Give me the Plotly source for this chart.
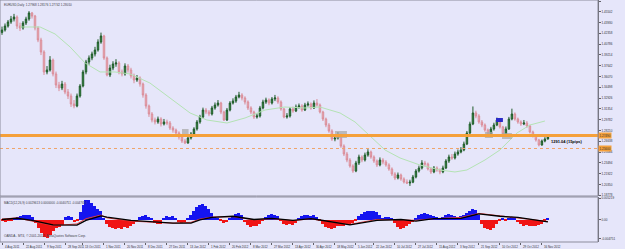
import plotly.graph_objects as go

# ---------------- data ----------------
bars = list(range(183))

opens = [1.4250, 1.4285, 1.4343, 1.4402, 1.4445, 1.4474, 1.4343, 1.4314, 1.4387, 1.4445,
         1.4533, 1.4489, 1.4314, 1.4140, 1.3965, 1.3674, 1.3703, 1.3848, 1.3645, 1.3484,
         1.3441, 1.3499, 1.3382, 1.3324, 1.3208, 1.3179, 1.3324, 1.3470, 1.3674, 1.3819,
         1.3878, 1.3936, 1.3994, 1.4110, 1.4198, 1.3878, 1.3630, 1.3732, 1.3790, 1.3805,
         1.3674, 1.3645, 1.3761, 1.3703, 1.3615, 1.3557, 1.3586, 1.3499, 1.3339, 1.3179,
         1.3062, 1.2975, 1.2946, 1.2989, 1.2917, 1.2946, 1.2931, 1.2858, 1.2829, 1.2786,
         1.2727, 1.2669, 1.2640, 1.2713, 1.2771, 1.2844, 1.2946, 1.3019, 1.3120, 1.3091,
         1.3062, 1.3150, 1.3193, 1.3222, 1.3091, 1.2975, 1.3120, 1.3222, 1.3251, 1.3310,
         1.3339, 1.3295, 1.3237, 1.3150, 1.3091, 1.3019, 1.3033, 1.3150, 1.3237, 1.3266,
         1.3222, 1.3281, 1.3295, 1.3237, 1.3135, 1.3019, 1.3033, 1.3135, 1.3106, 1.3164,
         1.3179, 1.3120, 1.3193, 1.3208, 1.3150, 1.3222, 1.3193, 1.3091, 1.2989, 1.2902,
         1.2815, 1.2698, 1.2713, 1.2756, 1.2596, 1.2480, 1.2392, 1.2305, 1.2232, 1.2349,
         1.2436, 1.2392, 1.2465, 1.2509, 1.2436, 1.2378, 1.2320, 1.2392, 1.2363, 1.2320,
         1.2261, 1.2189, 1.2130, 1.2174, 1.2116, 1.2072, 1.2057, 1.2070, 1.2145, 1.2232,
         1.2276, 1.2349, 1.2334, 1.2261, 1.2218, 1.2276, 1.2247, 1.2218, 1.2276, 1.2378,
         1.2436, 1.2422, 1.2480, 1.2509, 1.2538, 1.2625, 1.2786, 1.2917, 1.3077, 1.3033,
         1.2946, 1.2902, 1.2829, 1.2771, 1.2844, 1.2902, 1.2975, 1.2873, 1.2771, 1.2844,
         1.2989, 1.3062, 1.2989, 1.2946, 1.2917, 1.2931, 1.2887, 1.2800, 1.2742, 1.2684,
         1.2611, 1.2669, 1.2698]

closes = [1.4285, 1.4343, 1.4402, 1.4445, 1.4474, 1.4343, 1.4314, 1.4387, 1.4445, 1.4533,
          1.4489, 1.4314, 1.4140, 1.3965, 1.3674, 1.3703, 1.3848, 1.3645, 1.3484, 1.3441,
          1.3499, 1.3382, 1.3324, 1.3208, 1.3179, 1.3324, 1.3470, 1.3674, 1.3819, 1.3878,
          1.3936, 1.3994, 1.4110, 1.4198, 1.3878, 1.3630, 1.3732, 1.3790, 1.3805, 1.3674,
          1.3645, 1.3761, 1.3703, 1.3615, 1.3557, 1.3586, 1.3499, 1.3339, 1.3179, 1.3062,
          1.2975, 1.2946, 1.2989, 1.2917, 1.2946, 1.2931, 1.2858, 1.2829, 1.2786, 1.2727,
          1.2669, 1.2640, 1.2713, 1.2771, 1.2844, 1.2946, 1.3019, 1.3120, 1.3091, 1.3062,
          1.3150, 1.3193, 1.3222, 1.3091, 1.2975, 1.3120, 1.3222, 1.3251, 1.3310, 1.3339,
          1.3295, 1.3237, 1.3150, 1.3091, 1.3019, 1.3033, 1.3150, 1.3237, 1.3266, 1.3222,
          1.3281, 1.3295, 1.3237, 1.3135, 1.3019, 1.3033, 1.3135, 1.3106, 1.3164, 1.3179,
          1.3120, 1.3193, 1.3208, 1.3150, 1.3222, 1.3193, 1.3091, 1.2989, 1.2902, 1.2815,
          1.2698, 1.2713, 1.2756, 1.2596, 1.2480, 1.2392, 1.2305, 1.2232, 1.2349, 1.2436,
          1.2392, 1.2465, 1.2509, 1.2436, 1.2378, 1.2320, 1.2392, 1.2363, 1.2320, 1.2261,
          1.2189, 1.2130, 1.2174, 1.2116, 1.2072, 1.2057, 1.2070, 1.2145, 1.2232, 1.2276,
          1.2349, 1.2334, 1.2261, 1.2218, 1.2276, 1.2247, 1.2218, 1.2276, 1.2378, 1.2436,
          1.2422, 1.2480, 1.2509, 1.2538, 1.2625, 1.2786, 1.2917, 1.3077, 1.3033, 1.2946,
          1.2902, 1.2829, 1.2771, 1.2844, 1.2902, 1.2975, 1.2873, 1.2771, 1.2844, 1.2989,
          1.3062, 1.2989, 1.2946, 1.2917, 1.2931, 1.2887, 1.2800, 1.2742, 1.2684, 1.2611,
          1.2669, 1.2698, 1.2727]

highs = [1.4335, 1.4380, 1.4431, 1.4490, 1.4520, 1.4498, 1.4392, 1.4415, 1.4478, 1.4560,
         1.4548, 1.4505, 1.4340, 1.4172, 1.3990, 1.3760, 1.3905, 1.3870, 1.3680, 1.3530,
         1.3545, 1.3528, 1.3425, 1.3360, 1.3265, 1.3360, 1.3498, 1.3705, 1.3850, 1.3915,
         1.3970, 1.4040, 1.4150, 1.4247, 1.4215, 1.3900, 1.3780, 1.3830, 1.3860, 1.3830,
         1.3710, 1.3800, 1.3790, 1.3735, 1.3650, 1.3630, 1.3610, 1.3520, 1.3365, 1.3200,
         1.3090, 1.3010, 1.3025, 1.3015, 1.2990, 1.2980, 1.2960, 1.2885, 1.2850, 1.2810,
         1.2760, 1.2700, 1.2740, 1.2800, 1.2870, 1.2975, 1.3050, 1.3155, 1.3150, 1.3120,
         1.3180, 1.3230, 1.3265, 1.3240, 1.3110, 1.3150, 1.3250, 1.3290, 1.3340, 1.3385,
         1.3365, 1.3320, 1.3260, 1.3175, 1.3110, 1.3070, 1.3180, 1.3270, 1.3300, 1.3290,
         1.3310, 1.3340, 1.3320, 1.3260, 1.3150, 1.3075, 1.3160, 1.3170, 1.3200, 1.3215,
         1.3205, 1.3225, 1.3245, 1.3230, 1.3260, 1.3280, 1.3215, 1.3110, 1.3010, 1.2930,
         1.2840, 1.2760, 1.2800, 1.2775, 1.2620, 1.2510, 1.2420, 1.2330, 1.2380, 1.2470,
         1.2460, 1.2500, 1.2550, 1.2530, 1.2460, 1.2400, 1.2430, 1.2420, 1.2390, 1.2345,
         1.2285, 1.2215, 1.2210, 1.2195, 1.2140, 1.2110, 1.2105, 1.2175, 1.2260, 1.2310,
         1.2390, 1.2380, 1.2355, 1.2285, 1.2305, 1.2300, 1.2270, 1.2310, 1.2405, 1.2470,
         1.2480, 1.2515, 1.2545, 1.2580, 1.2660, 1.2815, 1.2950, 1.3172, 1.3110, 1.3060,
         1.2975, 1.2925, 1.2850, 1.2875, 1.2935, 1.3010, 1.2995, 1.2890, 1.2880, 1.3020,
         1.3140, 1.3085, 1.3010, 1.2970, 1.2975, 1.2960, 1.2905, 1.2820, 1.2765, 1.2700,
         1.2690, 1.2725, 1.2760]

lows = [1.4215, 1.4262, 1.4320, 1.4375, 1.4410, 1.4301, 1.4270, 1.4290, 1.4358, 1.4420,
        1.4452, 1.4280, 1.4108, 1.3920, 1.3630, 1.3640, 1.3680, 1.3610, 1.3440, 1.3395,
        1.3410, 1.3350, 1.3280, 1.3165, 1.3145, 1.3160, 1.3300, 1.3450, 1.3640, 1.3780,
        1.3845, 1.3900, 1.3970, 1.4085, 1.3850, 1.3610, 1.3600, 1.3700, 1.3750, 1.3640,
        1.3610, 1.3620, 1.3665, 1.3580, 1.3510, 1.3530, 1.3460, 1.3300, 1.3140, 1.3020,
        1.2940, 1.2910, 1.2920, 1.2880, 1.2895, 1.2900, 1.2830, 1.2790, 1.2750, 1.2690,
        1.2640, 1.2624, 1.2630, 1.2690, 1.2750, 1.2820, 1.2920, 1.3000, 1.3060, 1.3030,
        1.3040, 1.3125, 1.3170, 1.3060, 1.2960, 1.2960, 1.3100, 1.3200, 1.3225, 1.3290,
        1.3260, 1.3200, 1.3120, 1.3060, 1.2990, 1.2995, 1.3010, 1.3130, 1.3210, 1.3190,
        1.3200, 1.3250, 1.3210, 1.3110, 1.3000, 1.2995, 1.3010, 1.3080, 1.3090, 1.3140,
        1.3095, 1.3105, 1.3170, 1.3125, 1.3135, 1.3170, 1.3070, 1.2960, 1.2870, 1.2790,
        1.2670, 1.2665, 1.2690, 1.2570, 1.2450, 1.2360, 1.2280, 1.2205, 1.2215, 1.2320,
        1.2360, 1.2370, 1.2440, 1.2410, 1.2350, 1.2290, 1.2300, 1.2330, 1.2295, 1.2235,
        1.2160, 1.2100, 1.2110, 1.2090, 1.2050, 1.2042, 1.2015, 1.2055, 1.2125, 1.2210,
        1.2255, 1.2300, 1.2240, 1.2190, 1.2200, 1.2220, 1.2185, 1.2200, 1.2260, 1.2350,
        1.2395, 1.2400, 1.2455, 1.2490, 1.2520, 1.2610, 1.2770, 1.2900, 1.3000, 1.2920,
        1.2870, 1.2805, 1.2750, 1.2755, 1.2820, 1.2885, 1.2850, 1.2755, 1.2760, 1.2830,
        1.2970, 1.2965, 1.2920, 1.2890, 1.2900, 1.2860, 1.2780, 1.2720, 1.2660, 1.2590,
        1.2600, 1.2650, 1.2690]

# moving average (pale green) read at sparse bars
ma_bars = [6, 12.7, 17.7, 22.7, 27.7, 32.7, 37.7, 42.7, 49.3, 57, 62.7, 68.3, 75, 81, 87.7,
           94.3, 101, 106, 112.7, 117.7, 121.7, 127.7, 132.7, 139.3, 146, 151, 155, 161,
           166, 171.7, 176, 181]
ma_vals = [1.4329, 1.4329, 1.4227, 1.4038, 1.3805, 1.3674, 1.3674, 1.3645, 1.3514, 1.3266,
           1.3077, 1.2975, 1.2931, 1.3004, 1.3120, 1.3164, 1.3150, 1.3164, 1.3077, 1.2946,
           1.2786, 1.2538, 1.2422, 1.2320, 1.2247, 1.2218, 1.2247, 1.2392, 1.2538, 1.2786,
           1.2902, 1.2960]

# MACD histogram
macd = [-0.0004, -0.0005, -0.0004, -0.0002, 0.0003, 0.0007, 0.0009, 0.0010, 0.0011, 0.0011,
        0.0006, -0.0008, -0.0020, -0.0032, -0.0042, -0.0045, -0.0038, -0.0028, -0.0022, -0.0018,
        -0.0013, 0.0006, 0.0008, 0.0005, -0.0005, -0.0003, 0.0018, 0.0036, 0.0048, 0.0047,
        0.0040, 0.0033, 0.0026, 0.0020, 0.0004, -0.0012, -0.0019, -0.0022, -0.0024, -0.0020,
        -0.0023, -0.0018, -0.0020, -0.0016, -0.0012, -0.0006, 0.0005, 0.0009, 0.0010, 0.0007,
        0.0003, -0.0009, -0.0012, -0.0010, 0.0004, 0.0008, 0.0006, 0.0009, 0.0003, -0.0006,
        -0.0009, -0.0005, 0.0002, 0.0010, 0.0022, 0.0030, 0.0035, 0.0037, 0.0034, 0.0026,
        0.0015, 0.0006, 0.0003, -0.0004, -0.0008, -0.0006, 0.0002, 0.0006, 0.0014, 0.0017,
        0.0012, -0.0006, -0.0014, -0.0018, -0.0017, -0.0015, -0.0010, -0.0004, 0.0006, 0.0011,
        0.0013, 0.0012, 0.0008, -0.0002, -0.0010, -0.0014, -0.0012, -0.0013, -0.0008, 0.0002,
        0.0008, 0.0010, 0.0011, 0.0008, 0.0010, 0.0006, -0.0004, -0.0012, -0.0018, -0.0021,
        -0.0023, -0.0020, -0.0016, -0.0017, -0.0015, -0.0012, -0.0013, -0.0008, -0.0002, 0.0008,
        0.0014, 0.0018, 0.0020, 0.0022, 0.0021, 0.0019, 0.0012, 0.0004, 0.0006, 0.0005,
        0.0002, -0.0008, -0.0018, -0.0023, -0.0021, -0.0016, -0.0012, -0.0005, 0.0004, 0.0010,
        0.0014, 0.0016, 0.0013, 0.0010, 0.0008, 0.0005, 0.0003, 0.0006, 0.0011, 0.0014,
        0.0012, 0.0008, 0.0006, 0.0008, 0.0012, 0.0017, 0.0022, 0.0026, 0.0024, 0.0010,
        -0.0012, -0.0020, -0.0024, -0.0025, -0.0020, -0.0010, -0.0004, 0.0003, -0.0003, 0.0004,
        0.0005, 0.0002, -0.0006, -0.0012, -0.0015, -0.0014, -0.0016, -0.0017, -0.0015, -0.0014,
        -0.0010, -0.0004, 0.0003]

sig_bars = [0, 5, 10, 17, 25, 28, 33, 35, 43, 50, 57, 63, 66, 70, 77, 84, 90, 97, 103, 105,
            116, 125, 133, 138, 144, 153, 159, 166, 172, 182]
sig_black = [0.0000, 0.0003, -0.0002, -0.0013, -0.0014, -0.0002, 0.0009, 0.0006, -0.0002, -0.0006,
             -0.0009, -0.0009, -0.0001, 0.0005, 0.0008, 0.0000, 0.0003, -0.0002, 0.0002, 0.0000,
             -0.0013, -0.0002, 0.0000, -0.0004, 0.0002, 0.0003, 0.0014, 0.0008, 0.0005, -0.0006]
sig_red = [0.0001, 0.0004, -0.0004, -0.0015, -0.0011, 0.0002, 0.0011, 0.0004, -0.0004, -0.0007,
           -0.0009, -0.0007, 0.0001, 0.0006, 0.0007, -0.0001, 0.0002, -0.0003, 0.0002, -0.0001,
           -0.0012, 0.0000, -0.0002, -0.0002, 0.0002, 0.0005, 0.0015, 0.0009, 0.0004, -0.0005]

# horizontal levels
level_main = 1.2749
level_dotted = 1.2560
level_label = "1291.04 (15pips)"

# rectangles drawn on chart: (bar from, bar to, price low, price high)
gray_boxes = [(60, 62.2, 1.2742, 1.2844), (111, 115, 1.2713, 1.2815),
              (161, 163.7, 1.2713, 1.2800), (166.7, 170, 1.2698, 1.2786)]
blue_boxes = [(164.7, 167, 1.2946, 1.3004)]

price_ticks = [1.47074, 1.45502, 1.43930, 1.42358, 1.40786, 1.39214, 1.37642, 1.36070,
               1.34498, 1.32926, 1.31354, 1.29782, 1.28210, 1.26638, 1.25066, 1.23494,
               1.21922, 1.20350, 1.18778]
macd_ticks = [0.005219, 0.0, -0.004751]
macd_tick_text = ["0.005219", "0.00", "-0.004751"]

date_bars = [0, 7, 14, 21, 27, 34, 41, 48, 55, 62, 69, 76, 83, 90, 97, 104, 111, 118, 124,
             131, 138, 145, 152, 159, 166, 173, 180]
date_labels = ["4 Aug 2011", "22 Aug 2011", "9 Sep 2011", "28 Sep 2011", "13 Oct 2011",
               "1 Nov 2011", "20 Nov 2011", "8 Dec 2011", "27 Dec 2011", "13 Jan 2012",
               "1 Feb 2012", "20 Feb 2012", "8 Mar 2012", "27 Mar 2012", "13 Apr 2012",
               "30 Apr 2012", "18 May 2012", "5 Jun 2012", "22 Jun 2012", "10 Jul 2012",
               "27 Jul 2012", "15 Aug 2012", "3 Sep 2012", "21 Sep 2012", "10 Oct 2012",
               "29 Oct 2012", "16 Nov 2012"]

title_main = "EURUSD,Daily  1.27968 1.28176 1.27742 1.28010"
title_macd = "MACD(12,26,9) 0.0029613 0.0000000 -0.0040751 -0.0047651"
copyright_txt = "OANDA - MT4, © 2001-2012, MetaQuotes Software Corp."

# ---------------- figure ----------------
BG = "#E6E6FA"
FONT = "Liberation Sans"
XR = [-0.67, 198.7]
MAIN_DOM = [0.190, 1.0]
MACD_DOM = [0.0, 0.186]
TXT = 3.0

fig = go.Figure()

fig.add_trace(go.Scatter(x=ma_bars, y=ma_vals, mode="lines", line=dict(color="#B4E3B4", width=1),
                         xaxis="x", yaxis="y", hoverinfo="skip"))

fig.add_trace(go.Candlestick(
    x=bars, open=opens, high=highs, low=lows, close=closes,
    increasing=dict(line=dict(color="#1E5A28", width=1), fillcolor="#3FA34D"),
    decreasing=dict(line=dict(color="#D98C98", width=1), fillcolor="#F4C0C8"),
    whiskerwidth=0, xaxis="x", yaxis="y", hoverinfo="skip"))

fig.add_trace(go.Bar(x=bars, y=macd, width=1.0,
                     marker=dict(color=["#1414F0" if v >= 0 else "#F01414" for v in macd], line=dict(width=0)),
                     xaxis="x2", yaxis="y2", hoverinfo="skip"))
fig.add_trace(go.Scatter(x=sig_bars, y=sig_red, mode="lines", line=dict(color="#E03C3C", width=1),
                         xaxis="x2", yaxis="y2", hoverinfo="skip"))
fig.add_trace(go.Scatter(x=sig_bars, y=sig_black, mode="lines", line=dict(color="#000000", width=1.3),
                         xaxis="x2", yaxis="y2", hoverinfo="skip"))

shapes = []
for (a, b, lo, hi) in gray_boxes:
    shapes.append(dict(type="rect", xref="x", yref="y", x0=a, x1=b, y0=lo, y1=hi,
                       fillcolor="rgba(170,170,170,0.75)", line=dict(width=0), layer="above"))
for (a, b, lo, hi) in blue_boxes:
    shapes.append(dict(type="rect", xref="x", yref="y", x0=a, x1=b, y0=lo, y1=hi,
                       fillcolor="#2B2BC8", line=dict(width=0), layer="above"))
shapes.append(dict(type="line", xref="paper", yref="y", x0=0, x1=1, y0=level_main, y1=level_main,
                   line=dict(color="#F5A03A", width=3), layer="above"))
shapes.append(dict(type="line", xref="paper", yref="y", x0=0, x1=1, y0=level_dotted, y1=level_dotted,
                   line=dict(color="#EFA36A", width=1, dash="dot"), layer="above"))
# pane frames
shapes.append(dict(type="rect", xref="paper", yref="paper", x0=0, x1=1, y0=MAIN_DOM[0], y1=MAIN_DOM[1],
                   line=dict(color="#8C8C9C", width=1)))
shapes.append(dict(type="rect", xref="paper", yref="paper", x0=0, x1=1, y0=MACD_DOM[0], y1=MACD_DOM[1],
                   line=dict(color="#8C8C9C", width=1)))

annotations = [
    dict(text=title_main, xref="paper", yref="paper", x=0.004, y=0.996, xanchor="left", yanchor="top",
         showarrow=False, font=dict(size=TXT, color="#404048", family=FONT)),
    dict(text=title_macd, xref="paper", yref="paper", x=0.004, y=MACD_DOM[1] - 0.008, xanchor="left",
         yanchor="top", showarrow=False, font=dict(size=TXT, color="#404048", family=FONT)),
    dict(text=copyright_txt, xref="paper", yref="paper", x=0.004, y=0.008, xanchor="left",
         yanchor="bottom", showarrow=False, font=dict(size=3.2, color="#404048", family=FONT)),
    dict(text="<b>" + level_label + "</b>", xref="x", yref="y", x=182.3, y=1.2668, xanchor="left",
         yanchor="middle", showarrow=False, font=dict(size=4, color="#000000", family=FONT)),
    dict(text=f"{level_main:.5f}", xref="paper", yref="y", x=1.0, y=level_main, xanchor="left",
         yanchor="middle", showarrow=False, bgcolor="#F5A03A", borderpad=0.5,
         font=dict(size=TXT, color="#303030", family=FONT)),
    dict(text=f"{level_dotted:.5f}", xref="paper", yref="y", x=1.0, y=level_dotted, xanchor="left",
         yanchor="middle", showarrow=False, bgcolor="#F5A03A", borderpad=0.5,
         font=dict(size=TXT, color="#303030", family=FONT)),
]
for b, lab in zip(date_bars, date_labels):
    annotations.append(dict(text=lab, xref="x2", yref="paper", x=b, y=0, xanchor="left", yanchor="top",
                            xshift=0.5, yshift=-0.5, showarrow=False,
                            font=dict(size=2.9, color="#303038", family=FONT)))

fig.update_layout(
    width=625, height=249, margin=dict(l=0, r=27, t=0, b=7),
    paper_bgcolor=BG, plot_bgcolor=BG, showlegend=False, bargap=0,
    font=dict(family=FONT, size=TXT, color="#303038"),
    xaxis=dict(domain=[0, 1], anchor="y", range=XR, showticklabels=False, showgrid=False,
               zeroline=False, rangeslider=dict(visible=False), fixedrange=True),
    yaxis=dict(domain=MAIN_DOM, anchor="x", side="right", range=[1.1868, 1.4722],
               tickvals=price_ticks, ticktext=[f"{v:.5f}" for v in price_ticks],
               ticks="outside", ticklen=2, tickcolor="#606068", showgrid=False, zeroline=False,
               showline=True, linecolor="#606068", linewidth=1,
               tickfont=dict(size=TXT, color="#303038", family=FONT)),
    xaxis2=dict(domain=[0, 1], anchor="y2", range=XR, tickvals=date_bars, ticks="outside",
                ticklen=2, tickcolor="#606068", showticklabels=False, showgrid=False, zeroline=False,
                showline=False),
    yaxis2=dict(domain=MACD_DOM, anchor="x2", side="right", range=[-0.00554, 0.00554],
                tickvals=macd_ticks, ticktext=macd_tick_text, ticks="outside", ticklen=2,
                tickcolor="#606068", showgrid=False, zeroline=False, showline=True,
                linecolor="#606068", linewidth=1,
                tickfont=dict(size=TXT, color="#303038", family=FONT)),
    shapes=shapes, annotations=annotations,
)

fig.write_html("out.html")
